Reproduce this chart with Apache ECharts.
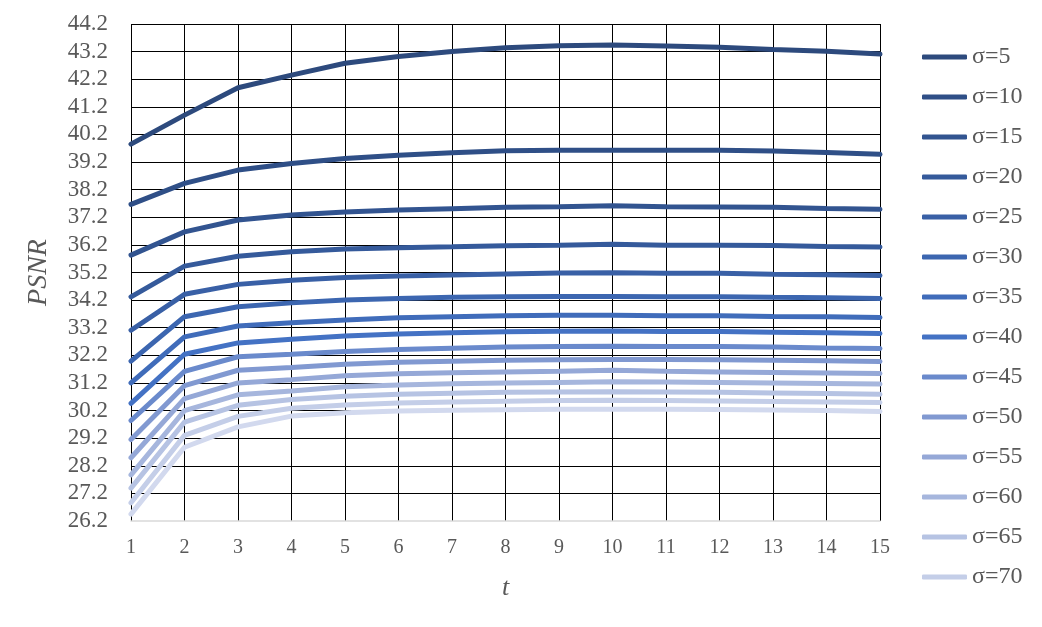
<!DOCTYPE html>
<html>
<head>
<meta charset="utf-8">
<script src="https://cdn.jsdelivr.net/npm/echarts@6/dist/echarts.min.js"></script>
<style>
html,body{margin:0;padding:0;background:#fff;}
#main{width:1042px;height:627px;}
</style>
</head>
<body>
<div id="main"></div>
<script>
const categories = ['1','2','3','4','5','6','7','8','9','10','11','12','13','14','15'];
const seriesNames = ['σ=5','σ=10','σ=15','σ=20','σ=25','σ=30','σ=35','σ=40','σ=45','σ=50','σ=55','σ=60','σ=65','σ=70','σ=75'];
const legendNames = ['σ=5','σ=10','σ=15','σ=20','σ=25','σ=30','σ=35','σ=40','σ=45','σ=50','σ=55','σ=60','σ=65','σ=70'];

const s5  = [39.85, 40.9, 41.89, 42.35, 42.78, 43.02, 43.2, 43.34, 43.41, 43.44, 43.4, 43.36, 43.28, 43.21, 43.11];
const s10 = [37.67, 38.43, 38.91, 39.15, 39.33, 39.45, 39.54, 39.61, 39.63, 39.63, 39.63, 39.63, 39.6, 39.55, 39.48];
const s15 = [35.83, 36.67, 37.1, 37.28, 37.39, 37.46, 37.51, 37.56, 37.58, 37.62, 37.58, 37.57, 37.56, 37.52, 37.49];
const s20 = [34.32, 35.43, 35.79, 35.95, 36.05, 36.1, 36.13, 36.17, 36.19, 36.22, 36.19, 36.19, 36.18, 36.14, 36.12];
const s25 = [33.11, 34.41, 34.77, 34.92, 35.02, 35.07, 35.11, 35.15, 35.18, 35.19, 35.17, 35.17, 35.14, 35.12, 35.09];
const s30 = [31.99, 33.6, 33.96, 34.1, 34.2, 34.26, 34.3, 34.32, 34.33, 34.33, 34.32, 34.32, 34.3, 34.29, 34.26];
const s35 = [31.2, 32.87, 33.26, 33.38, 33.48, 33.56, 33.6, 33.63, 33.65, 33.65, 33.63, 33.63, 33.61, 33.6, 33.57];
const s40 = [30.46, 32.24, 32.65, 32.78, 32.9, 32.97, 33.02, 33.05, 33.07, 33.08, 33.06, 33.06, 33.04, 33.02, 32.99];
const s45 = [29.84, 31.62, 32.15, 32.24, 32.34, 32.41, 32.46, 32.5, 32.52, 32.53, 32.52, 32.52, 32.5, 32.47, 32.45];
const s50 = [29.15, 31.1, 31.66, 31.76, 31.88, 31.95, 31.99, 32.02, 32.04, 32.05, 32.05, 32.04, 32.02, 32.0, 31.98];
const s55 = [28.49, 30.63, 31.2, 31.32, 31.46, 31.53, 31.57, 31.6, 31.62, 31.66, 31.62, 31.6, 31.58, 31.56, 31.54];
const s60 = [27.87, 30.2, 30.77, 30.91, 31.06, 31.13, 31.17, 31.2, 31.22, 31.24, 31.23, 31.22, 31.2, 31.18, 31.16];
const s65 = [27.39, 29.78, 30.39, 30.6, 30.72, 30.79, 30.83, 30.86, 30.87, 30.88, 30.87, 30.86, 30.84, 30.82, 30.79];
const s70 = [26.86, 29.3, 29.99, 30.28, 30.4, 30.47, 30.51, 30.54, 30.56, 30.57, 30.56, 30.55, 30.53, 30.51, 30.49];
const s75 = [26.45, 28.87, 29.61, 30.0, 30.12, 30.18, 30.21, 30.23, 30.25, 30.25, 30.25, 30.24, 30.22, 30.2, 30.17];

const allValues = [s5, s10, s15, s20, s25, s30, s35, s40, s45, s50, s55, s60, s65, s70, s75];
const colors = ['#2D4A7D','#2F4F87','#325490','#355A9B','#3960A6','#3C66B0','#406CBA','#4472C4',
                '#6A8ACC','#8199D1','#95A8D7','#A6B6DD','#B6C3E3','#C4CEE8','#D2D9EE'];

const serif = '"Liberation Serif", "Times New Roman", serif';

const chart = echarts.init(document.getElementById('main'), null, {renderer: 'canvas'});
chart.setOption({
  animation: false,
  backgroundColor: '#ffffff',
  color: colors,
  grid: {left: 131, right: 162, top: 24, bottom: 106, containLabel: false},
  xAxis: {
    type: 'category',
    data: categories,
    boundaryGap: false,
    name: 't',
    nameLocation: 'middle',
    nameGap: 54,
    nameTextStyle: {fontFamily: serif, fontStyle: 'italic', fontSize: 26, color: '#595959'},
    axisLine: {show: true, onZero: false, lineStyle: {color: '#D9D9D9', width: 1.5}},
    axisTick: {show: false},
    axisLabel: {fontFamily: serif, fontSize: 20, color: '#595959', margin: 17},
    splitLine: {show: true, lineStyle: {color: '#000000', width: 1}}
  },
  yAxis: {
    type: 'value',
    min: 26.2,
    max: 44.2,
    interval: 1,
    name: 'PSNR',
    nameLocation: 'middle',
    nameGap: 78,
    nameTextStyle: {fontFamily: serif, fontStyle: 'italic', fontSize: 28, color: '#595959'},
    axisLine: {show: false},
    axisTick: {show: false},
    axisLabel: {fontFamily: serif, fontSize: 23, color: '#595959', margin: 23,
      formatter: v => Number(v).toFixed(1)},
    splitLine: {show: true, showMinLine: false, lineStyle: {color: '#000000', width: 1}}
  },
  legend: {
    data: legendNames.map(n => ({name: n, icon: 'roundRect'})),
    orient: 'vertical',
    left: 917,
    top: 40,
    itemWidth: 45,
    itemHeight: 5,
    itemGap: 16,
    textStyle: {fontFamily: serif, fontSize: 24, color: '#595959', lineHeight: 24}
  },
  series: seriesNames.map((n, i) => ({
    name: n,
    type: 'line',
    data: allValues[i],
    symbol: 'none',
    smooth: false,
    lineStyle: {width: 5, color: colors[i], cap: 'round'},
    itemStyle: {color: colors[i]}
  }))
});
</script>
</body>
</html>
